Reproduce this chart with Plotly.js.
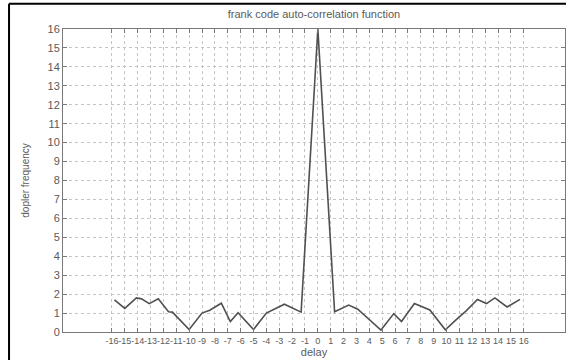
<!DOCTYPE html>
<html>
<head>
<meta charset="utf-8">
<script src="https://cdn.plot.ly/plotly-3.0.1.min.js"></script>
<style>
  html, body { margin: 0; padding: 0; background: #fff; }
  #chart { width: 566px; height: 360px; }
</style>
</head>
<body>
<div id="chart"></div>
<script>
// Delay positions and auto-correlation magnitudes
const delay = [-15.8, -15.0, -14.1, -13.7, -13.1, -12.4, -11.6, -11.3, -10.0, -9.0, -8.4, -7.5, -6.8, -6.2, -5.0, -4.0, -2.6, -1.3,
               0,
               1.3, 2.4, 3.1, 4.9, 5.9, 6.5, 7.5, 8.7, 9.9, 10.9, 11.5, 12.4, 13.1, 13.75, 14.7, 15.7];
const magnitude = [1.7, 1.25, 1.8, 1.75, 1.5, 1.75, 1.07, 1.05, 0.13, 1.0, 1.15, 1.52, 0.55, 1.02, 0.13, 1.0, 1.47, 1.05,
                   16,
                   1.07, 1.42, 1.2, 0.1, 0.97, 0.55, 1.5, 1.16, 0.12, 0.75, 1.1, 1.72, 1.5, 1.8, 1.32, 1.72];
const xTicks = [-16,-15,-14,-13,-12,-11,-10,-9,-8,-7,-6,-5,-4,-3,-2,-1,0,1,2,3,4,5,6,7,8,9,10,11,12,13,14,15,16];
const yTicks = [0,1,2,3,4,5,6,7,8,9,10,11,12,13,14,15,16];

const axisCol = '#7a7a7a';
const gridCol = '#c4c4c4';
const txtCol = '#5a5a5a';

const trace = {
  x: delay, y: magnitude, type: 'scatter', mode: 'lines',
  line: { color: '#505050', width: 1.6 }, hoverinfo: 'skip'
};

const layout = {
  width: 566, height: 360,
  margin: { l: 63, r: 1, t: 29, b: 28 },
  paper_bgcolor: '#ffffff', plot_bgcolor: '#ffffff',
  font: { family: 'Liberation Sans, Arial, sans-serif', size: 11, color: txtCol },
  showlegend: false,
  title: { text: 'frank code auto-correlation function', x: 0.5, xref: 'paper', xanchor: 'center', y: 1, yref: 'container', yanchor: 'top', pad: { t: 10 },
           font: { size: 11, color: txtCol } },
  xaxis: {
    range: [-19.8, 19.2], tickmode: 'array', tickvals: xTicks, ticktext: xTicks.map(String),
    tickangle: 0, ticks: 'inside', ticklen: 4, tickcolor: axisCol,
    showline: true, linecolor: axisCol, linewidth: 1, mirror: 'ticks',
    showgrid: true, gridcolor: gridCol, griddash: 'dot', gridwidth: 1,
    zeroline: false, tickfont: { family: 'Liberation Sans Narrow, Arial Narrow, sans-serif', size: 9, color: txtCol },
    title: { text: 'delay', font: { size: 11, color: txtCol }, standoff: 3 }
  },
  yaxis: {
    range: [0, 16], tickmode: 'array', tickvals: yTicks, ticktext: yTicks.map(String),
    ticks: 'inside', ticklen: 4, tickcolor: axisCol,
    showline: true, linecolor: axisCol, linewidth: 1, mirror: 'ticks',
    showgrid: true, gridcolor: gridCol, griddash: 'dot', gridwidth: 1,
    zeroline: false, tickfont: { size: 11, color: txtCol },
    title: { text: 'dopler frequency', font: { size: 10, color: txtCol }, standoff: 16 }
  },
  shapes: [
    { type: 'line', xref: 'paper', yref: 'paper', x0: -0.1075, x1: 1.01, y0: 1.083, y1: 1.083, line: { color: '#000', width: 2 } },
    { type: 'line', xref: 'paper', yref: 'paper', x0: -0.1075, x1: -0.1075, y0: 1.083, y1: -0.2, line: { color: '#000', width: 2 } }
  ]
};

Plotly.newPlot('chart', [trace], layout, { staticPlot: true, displayModeBar: false });
</script>
</body>
</html>
